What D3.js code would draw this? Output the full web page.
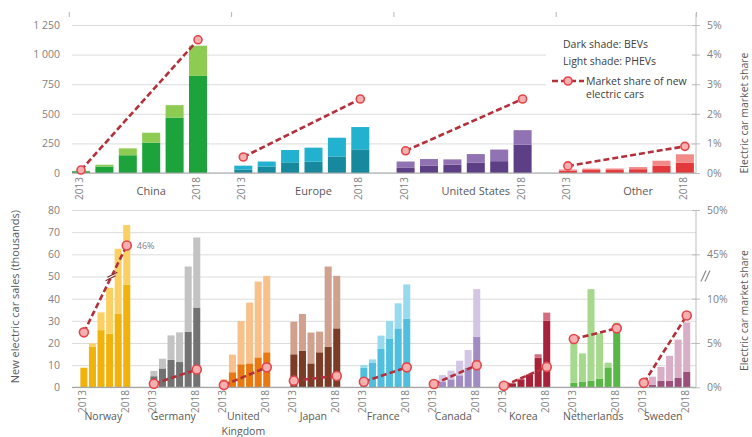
<!DOCTYPE html>
<html>
<head>
<meta charset="utf-8">
<script src="https://cdn.jsdelivr.net/npm/d3@7"></script>
<style>
  html, body { margin: 0; padding: 0; background: #fff; }
  svg { display: block; font-family: "Open Sans", "Noto Sans", sans-serif; }
</style>
</head>
<body>
<svg id="chart" width="752" height="437"></svg>
<script>
// ---------- data ----------
const years = ["2013", "2014", "2015", "2016", "2017", "2018"];
const yearTicks = ["2013", "2018"];

// Regional sales (thousands), BEV = dark shade, PHEV = light shade
const regions = ["China", "Europe", "United States", "Other"];
const regionBev = [
  [15, 55, 150, 257, 468, 820],
  [30, 55, 90, 95, 140, 200],
  [47, 63, 70, 86, 100, 240],
  [20, 25, 25, 32, 60, 88]
];
const regionPhev = [
  [3, 15, 58, 83, 105, 255],
  [32, 42, 104, 119, 158, 188],
  [50, 55, 45, 74, 98, 122],
  [10, 12, 13, 18, 44, 70]
];
// Market share (%) in 2013 and 2018
const regionShare = [[0.1, 4.5], [0.54, 2.5], [0.75, 2.5], [0.24, 0.9]];
const regionDark = ["#1ca33c", "#17899f", "#5d3f86", "#e23a3c"];
const regionLight = ["#8dcb52", "#22b1cf", "#9173b4", "#f28a88"];

// Country sales (thousands)
const countries = ["Norway", "Germany", "United Kingdom", "Japan", "France", "Canada", "Korea", "Netherlands", "Sweden"];
const countryBev = [
  [8.7, 18.3, 25.8, 24.2, 33.1, 46.2],
  [5.0, 8.5, 12.4, 11.4, 25.1, 36.0],
  [2.5, 6.8, 10.4, 10.8, 13.5, 15.8],
  [14.9, 16.4, 10.8, 15.8, 18.3, 26.6],
  [8.8, 11.0, 17.3, 21.8, 26.6, 31.0],
  [0.7, 2.4, 3.6, 5.4, 8.7, 22.9],
  [0.8, 1.8, 3.6, 5.6, 13.4, 30.0],
  [2.0, 2.6, 3.0, 3.8, 9.0, 25.5],
  [0.4, 1.2, 2.9, 2.9, 4.2, 7.1]
];
const countryPhev = [
  [0.2, 1.5, 8.0, 20.7, 29.4, 27.0],
  [2.4, 4.4, 11.0, 13.4, 29.4, 31.6],
  [1.1, 7.9, 19.5, 27.4, 34.2, 34.5],
  [14.7, 16.7, 13.9, 9.3, 36.2, 23.7],
  [1.3, 1.6, 6.0, 8.2, 11.3, 15.4],
  [0.9, 3.1, 3.9, 6.6, 8.1, 21.4],
  [0.1, 0.2, 0.3, 0.4, 1.5, 3.7],
  [18.7, 12.7, 41.3, 20.6, 2.1, 3.7],
  [1.1, 3.6, 6.3, 11.3, 17.3, 22.2]
];
const countryShare = [
  [6.2, 46], [0.4, 2.0], [0.25, 2.25], [0.75, 1.28], [0.63, 2.25],
  [0.37, 2.5], [0.17, 2.3], [5.45, 6.65], [0.5, 8.1]
];
const countryDark = ["#f2b20c", "#727272", "#e8780f", "#7a3b27", "#4fbfdd", "#a08bc3", "#a72139", "#58b746", "#9c4f7b"];
const countryLight = ["#fbd062", "#c3c3c3", "#f8c08b", "#d1a190", "#97daee", "#d3c6e4", "#d66b80", "#a6d88e", "#d9afc8"];

const salesTicksTop = [0, 250, 500, 750, 1000, 1250];
const shareTicksTop = [0, 1, 2, 3, 4, 5];
const salesTicksBottom = [0, 10, 20, 30, 40, 50, 60, 70, 80];
const shareTicksBottom = [0, 5, 10, 45, 50];

const legendLines = ["Dark shade: BEVs", "Light shade: PHEVs"];
const legendShare = ["Market share of new", "electric cars"];
const salesTitle = "New electric car sales (thousands)";
const shareTitle = "Electric car market share";

// ---------- layout ----------
const svg = d3.select("#chart");
const plotLeft = 72, plotRight = 696;
const gridColor = "#dcdcdc", axisColor = "#a6a6a6";
const tickText = "#7f7f7f", labelText = "#595959";
const lineColor = "#b3303a", markerStroke = "#e2464c", markerFill = "#f6b0b0";

const spaced = d3.formatLocale({ decimal: ".", thousands: " ", grouping: [3], currency: ["", ""] }).format(",");

// top panel scales
const topY = d3.scaleLinear().domain([0, 1250]).range([173, 25]);
const topShareY = d3.scaleLinear().domain([0, 5]).range([173, 25]);
const topGroup = d3.scaleBand().domain(regions).range([69.3, 696.6]).paddingInner(0.135);
const topYear = d3.scaleBand().domain(years).range([0, topGroup.bandwidth()]).paddingInner(0.23).paddingOuter(0.115);

// bottom panel scales (share axis is broken between 10% and 45%)
const botY = d3.scaleLinear().domain([0, 80]).range([387.3, 210]);
const botShareY = d3.scaleLinear().domain([0, 10, 45, 50]).range([0, 40, 60, 80].map(botY));
const botGroup = d3.scaleBand().domain(countries).range([79.6, 691]).paddingInner(0.265);
const botYear = d3.scaleBand().domain(years).range([0, botGroup.bandwidth()]).paddingInner(0.18).paddingOuter(0.09);

function styleAxis(g) {
  g.select(".domain").remove();
  g.selectAll("text").attr("fill", tickText).style("font-size", "10.5px").style("font-family", "'Open Sans','Noto Sans',sans-serif");
  g.selectAll("line").attr("stroke", "#bdbdbd");
}

// ---------- gridlines ----------
function grid(scale, ticks) {
  svg.append("g").attr("transform", `translate(${plotLeft},0)`)
    .call(d3.axisLeft(scale).tickValues(ticks).tickSize(-(plotRight - plotLeft)).tickFormat(""))
    .call(g => { g.select(".domain").remove(); g.selectAll("line").attr("stroke", gridColor); });
}
grid(topY, salesTicksTop);
grid(botY, salesTicksBottom);

// group boundary ticks along the top of the upper panel
const topEdges = regions.map(r => topGroup(r)).concat([topGroup.range()[1]]);
svg.append("g").selectAll("line").data(topEdges).join("line")
  .attr("x1", d => d).attr("x2", d => d).attr("y1", 12).attr("y2", 17)
  .attr("stroke", "#b5b5b5");

// ---------- stacked bars ----------
function drawBars(names, bev, phev, dark, light, group, inner, y) {
  names.forEach((name, gi) => {
    const g = svg.append("g").attr("transform", `translate(${group(name)},0)`);
    years.forEach((yr, i) => {
      const b = bev[gi][i], p = phev[gi][i];
      g.append("rect").attr("x", inner(yr)).attr("width", inner.bandwidth())
        .attr("y", y(b)).attr("height", y(0) - y(b)).attr("fill", dark[gi]);
      g.append("rect").attr("x", inner(yr)).attr("width", inner.bandwidth())
        .attr("y", y(b + p)).attr("height", y(b) - y(b + p)).attr("fill", light[gi]);
    });
  });
}
drawBars(regions, regionBev, regionPhev, regionDark, regionLight, topGroup, topYear, topY);
drawBars(countries, countryBev, countryPhev, countryDark, countryLight, botGroup, botYear, botY);

// baselines
[topY(0), botY(0)].forEach(yy => {
  svg.append("line").attr("x1", plotLeft).attr("x2", plotRight).attr("y1", yy).attr("y2", yy)
    .attr("stroke", axisColor).attr("stroke-width", 1.2);
});

// ---------- left axes ----------
svg.append("g").attr("transform", `translate(${plotLeft},0)`)
  .call(d3.axisLeft(topY).tickValues(salesTicksTop).tickSize(0).tickPadding(12).tickFormat(spaced))
  .call(styleAxis);
svg.append("g").attr("transform", `translate(${plotLeft},0)`)
  .call(d3.axisLeft(botY).tickValues(salesTicksBottom).tickSize(0).tickPadding(12))
  .call(styleAxis);

svg.append("text").attr("transform", `translate(19,${(botY(0) + botY(80)) / 2 - 2}) rotate(-90)`)
  .attr("text-anchor", "middle").attr("fill", labelText).style("font-size", "11px").text(salesTitle);

// ---------- right axes ----------
svg.append("line").attr("x1", plotRight).attr("x2", plotRight).attr("y1", 13).attr("y2", topY(0)).attr("stroke", "#bdbdbd");
svg.append("line").attr("x1", plotRight).attr("x2", plotRight).attr("y1", botY(80)).attr("y2", botY(0)).attr("stroke", "#bdbdbd");

svg.append("g").attr("transform", `translate(${plotRight - 4},0)`)
  .call(d3.axisRight(topShareY).tickValues(shareTicksTop).tickSize(8).tickPadding(7).tickFormat(d => d + "%"))
  .call(styleAxis);
svg.append("g").attr("transform", `translate(${plotRight - 4},0)`)
  .call(d3.axisRight(botShareY).tickValues(shareTicksBottom).tickSize(8).tickPadding(7).tickFormat(d => d + "%"))
  .call(styleAxis);

// break mark on the lower share axis
const breakY = botY(50);
[0, 4].forEach(dx => {
  svg.append("line").attr("x1", plotRight + 5 + dx).attr("y1", breakY + 5)
    .attr("x2", plotRight + 10 + dx).attr("y2", breakY - 6)
    .attr("stroke", "#8c8c8c").attr("stroke-width", 1.2);
});

svg.append("text").attr("transform", `translate(748,${(topY(0) + topY(1250)) / 2 + 14}) rotate(-90)`)
  .attr("text-anchor", "middle").attr("fill", labelText).style("font-size", "10.5px").text(shareTitle);
svg.append("text").attr("transform", `translate(748,${(botY(0) + botY(80)) / 2 + 12}) rotate(-90)`)
  .attr("text-anchor", "middle").attr("fill", labelText).style("font-size", "10.5px").text(shareTitle);

// ---------- category labels ----------
function yearLabels(names, group, inner, y0) {
  names.forEach(name => {
    yearTicks.forEach(yr => {
      const cx = group(name) + inner(yr) + inner.bandwidth() / 2;
      svg.append("text").attr("transform", `translate(${cx},${y0}) rotate(-90)`)
        .attr("text-anchor", "end").attr("dy", "0.2em")
        .attr("fill", tickText).style("font-size", "10px").text(yr);
    });
  });
}
yearLabels(regions, topGroup, topYear, 177);
yearLabels(countries, botGroup, botYear, 390);

regions.forEach(name => {
  svg.append("text").attr("x", topGroup(name) + topYear(years[3]) + topYear.bandwidth() / 2).attr("y", 195)
    .attr("text-anchor", "middle").attr("fill", labelText).style("font-size", "11px").text(name);
});
countries.forEach(name => {
  const cx = botGroup(name) + botGroup.bandwidth() / 2 - 2;
  const t = svg.append("text").attr("x", cx).attr("y", 420)
    .attr("text-anchor", "middle").attr("fill", labelText).style("font-size", "10.5px");
  name.split(" ").forEach((w, i) => {
    t.append("tspan").attr("x", cx).attr("dy", i ? 14.5 : 0).text(w);
  });
});

// ---------- market share lines ----------
function shareLine(x0, y0, x1, y1, r) {
  svg.append("line").attr("x1", x0).attr("y1", y0).attr("x2", x1).attr("y2", y1)
    .attr("stroke", lineColor).attr("stroke-width", 2.6).attr("stroke-dasharray", "6,3");
  [[x0, y0], [x1, y1]].forEach(([cx, cy]) => {
    svg.append("circle").attr("cx", cx).attr("cy", cy).attr("r", r)
      .attr("fill", markerFill).attr("stroke", markerStroke).attr("stroke-width", 1.6);
  });
}

regions.forEach((name, gi) => {
  const x0 = topGroup(name) + topYear(years[0]) + topYear.bandwidth() / 2;
  const x1 = topGroup(name) + topYear(years[5]) + topYear.bandwidth() / 2;
  shareLine(x0, topShareY(regionShare[gi][0]), x1, topShareY(regionShare[gi][1]), 4);
});

countries.forEach((name, gi) => {
  const x0 = botGroup(name) + botYear(years[0]) + botYear.bandwidth() / 2;
  const x1 = botGroup(name) + botYear(years[5]) + botYear.bandwidth() / 2;
  const s0 = countryShare[gi][0], s1 = countryShare[gi][1];
  const y0 = botShareY(s0), y1 = botShareY(s1);
  shareLine(x0, y0, x1, y1, 4.5);
  if (s1 > 10) {
    // line crosses the axis break: mark it with a cut
    const t = (breakY - y0) / (y1 - y0);
    const bx = x0 + t * (x1 - x0), by = y0 + t * (y1 - y0);
    const len = Math.hypot(x1 - x0, y1 - y0);
    const ux = (x1 - x0) / len, uy = (y1 - y0) / len;
    svg.append("line").attr("x1", bx - ux * 2).attr("y1", by - uy * 2).attr("x2", bx + ux * 2).attr("y2", by + uy * 2)
      .attr("stroke", "#fff").attr("stroke-width", 4);
    [-2, 2].forEach(o => {
      const cx = bx + ux * o, cy = by + uy * o;
      svg.append("line").attr("x1", cx - 5).attr("y1", cy + 2.5).attr("x2", cx + 5).attr("y2", cy - 2.5)
        .attr("stroke", "#7a2a30").attr("stroke-width", 1.1);
    });
    svg.append("text").attr("x", x1 + 10).attr("y", y1).attr("dy", "0.35em")
      .attr("fill", tickText).style("font-size", "9px").text(s1 + "%");
  }
});

// ---------- legend ----------
const lg = svg.append("g");
lg.append("rect").attr("x", 546).attr("y", 36).attr("width", 146).attr("height", 66).attr("fill", "#fff");
legendLines.forEach((t, i) => {
  lg.append("text").attr("x", 563).attr("y", 48 + i * 17).attr("fill", "#404040").style("font-size", "10.5px").text(t);
});
lg.append("line").attr("x1", 552).attr("x2", 584).attr("y1", 81).attr("y2", 81)
  .attr("stroke", lineColor).attr("stroke-width", 2.6).attr("stroke-dasharray", "6,3");
lg.append("circle").attr("cx", 568).attr("cy", 81).attr("r", 4)
  .attr("fill", markerFill).attr("stroke", markerStroke).attr("stroke-width", 1.6);
legendShare.forEach((t, i) => {
  lg.append("text").attr("x", 586).attr("y", 85 + i * 13).attr("fill", "#404040").style("font-size", "10.5px").text(t);
});
</script>
</body>
</html>
